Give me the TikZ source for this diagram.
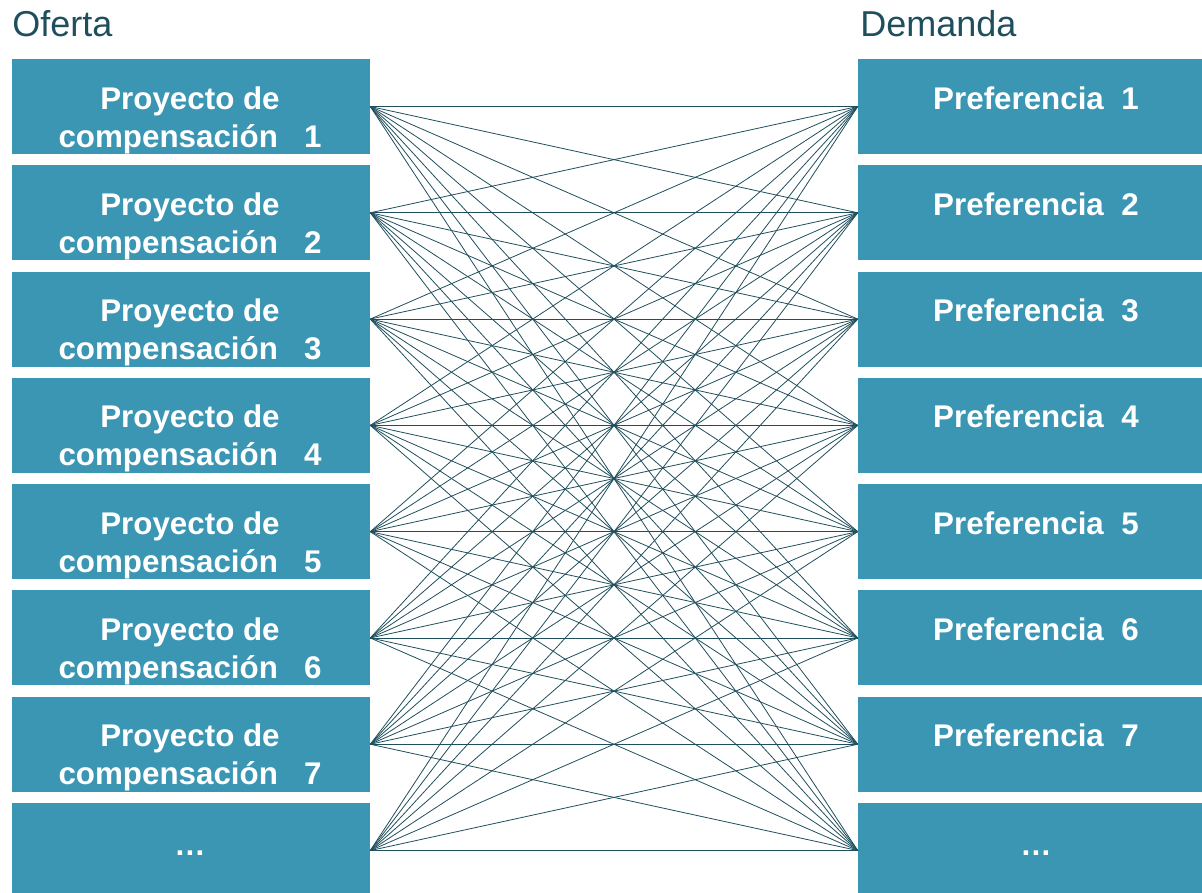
\documentclass[tikz,border=0pt]{standalone}
\usepackage{fontspec}
\setmainfont{Liberation Sans}
\definecolor{cajaazul}{HTML}{3B96B4}
\definecolor{tinta}{HTML}{1F4E5C}

\begin{document}
\begin{tikzpicture}[x=0.75pt, y=-0.75pt,
  caja/.style={fill=cajaazul, inner sep=0, minimum height=71.25pt},
  texto/.style={text=white, font=\fontsize{23.5}{28.5}\selectfont\bfseries, align=center, inner sep=0, anchor=base},
  titulo/.style={text=tinta, font=\fontsize{27}{32}\selectfont, inner sep=0, anchor=base west},
  enlace/.style={draw=tinta, line width=0.6pt}]
\useasboundingbox (0,0) rectangle (1202,892); % page size
\node[titulo] (oferta) at (12,36.5) {Oferta}; % left title
\node[titulo] (demanda) at (860,36.5) {Demanda}; % right title
\foreach \i in {1,...,8} {
  \pgfmathsetmacro{\yc}{106.5+106.29*(\i-1)}
  \node[caja, minimum width=268.5pt] (o\i) at (191,\yc) {}; % supply box
  \node[caja, minimum width=258pt] (d\i) at (1030,\yc) {}; % demand box
}
\foreach \i in {1,...,7} {
  \pgfmathsetmacro{\yb}{109+106.29*(\i-1)}
  \node[texto] (ot\i) at (190,\yb+38) {Proyecto de\\compensación\ \ \ \i}; % supply label
  \node[texto] (dt\i) at (1036,\yb) {Preferencia\ \ \i}; % demand label
}
\node[texto] (ot8) at (190,855) {…}; % more supply
\node[texto] (dt8) at (1036,855) {…}; % more demand
\foreach \i in {1,...,8}
  \foreach \j in {1,...,8}
    \draw[enlace] (o\i.east) -- (d\j.west); % every pair
\end{tikzpicture}
\end{document}
